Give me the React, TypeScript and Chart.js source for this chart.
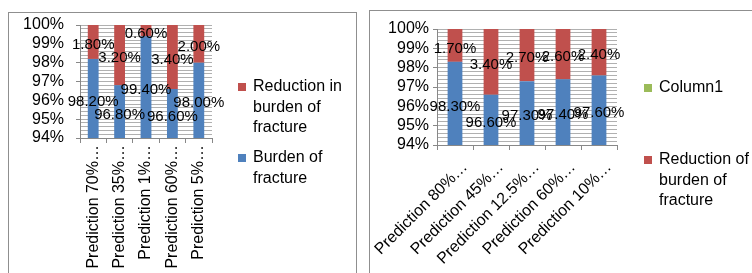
import React, { useEffect, useRef } from "react";
import { Chart, registerables } from "chart.js";

Chart.register(...registerables);

// ---------- data ----------
const leftCategories = ["Prediction 70%…", "Prediction 35%…", "Prediction 1%…", "Prediction 60%…", "Prediction 5%…"];
const leftBurden = [98.2, 96.8, 99.4, 96.6, 98.0];
const leftReduction = [1.8, 3.2, 0.6, 3.4, 2.0];
const leftSeriesNames = ["Burden of fracture", "Reduction in burden of fracture"];

const rightCategories = ["Prediction 80%…", "Prediction 45%…", "Prediction 12.5%…", "Prediction 60%…", "Prediction 10%…"];
const rightBurden = [98.3, 96.6, 97.3, 97.4, 97.6];
const rightReduction = [1.7, 3.4, 2.7, 2.6, 2.4];
const rightColumn1: number[] = [];
const rightSeriesNames = ["Burden of fracture", "Reduction of burden of fracture", "Column1"];

const yMin = 94;
const yMax = 100;
const yMinorStep = 0.2;

// ---------- styles ----------
const FONT = '"Liberation Sans", Arial, sans-serif';
const BLUE = "#4F81BD";
const RED = "#C0504D";
const GREEN = "#9BBB59";
const GRID = "#b0b0b0";
const AXIS = "#888888";

const isMajor = (v: number) => Math.abs(v - Math.round(v)) < 1e-6;

function wrapText(ctx: CanvasRenderingContext2D, text: string, maxWidth: number): string[] {
  const words = text.split(" ");
  const lines: string[] = [];
  let cur = "";
  for (const w of words) {
    const test = cur ? cur + " " + w : w;
    if (cur && ctx.measureText(test).width > maxWidth) {
      lines.push(cur);
      cur = w;
    } else {
      cur = test;
    }
  }
  if (cur) lines.push(cur);
  return lines;
}

const sideLegendPlugin = {
  id: "sideLegend",
  afterDraw(chart: any) {
    const o = chart.options.plugins.sideLegend;
    if (!o) return;
    const ctx = chart.ctx as CanvasRenderingContext2D;
    const x0 = chart.chartArea.right;
    ctx.save();
    ctx.font = `16px ${FONT}`;
    ctx.textBaseline = "middle";
    ctx.textAlign = "left";
    o.order.forEach((di: number, k: number) => {
      const ds = chart.data.datasets[di];
      const y0 = o.tops[k];
      ctx.fillStyle = ds.backgroundColor;
      ctx.fillRect(x0 + o.boxX, y0 - 4, 8, 8);
      ctx.fillStyle = "#000";
      const lines = wrapText(ctx, ds.label, o.maxWidth);
      lines.forEach((ln, i) => ctx.fillText(ln, x0 + o.textX, y0 + i * o.lineHeight));
    });
    ctx.restore();
  },
};

const valueLabelPlugin = {
  id: "valueLabels",
  afterDatasetsDraw(chart: any) {
    const o = chart.options.plugins.valueLabels;
    if (!o) return;
    const ctx = chart.ctx as CanvasRenderingContext2D;
    const area = chart.chartArea;
    ctx.save();
    ctx.font = `15px ${FONT}`;
    ctx.fillStyle = "#000";
    ctx.textAlign = "center";
    ctx.textBaseline = "middle";
    o.datasets.forEach((di: number) => {
      const ds = chart.data.datasets[di];
      const meta = chart.getDatasetMeta(di);
      meta.data.forEach((el: any, i: number) => {
        const v = ds.data[i];
        if (v == null) return;
        const { x, y, base } = el.getProps(["x", "y", "base"], true);
        const top = Math.max(Math.min(y, base), area.top);
        const bot = Math.min(Math.max(y, base), area.bottom);
        ctx.fillText(v.toFixed(2) + "%", x, (top + bot) / 2 + o.offset);
      });
    });
    ctx.restore();
  },
};

interface Layout {
  top: number;
  right: number;
  yWidth: number;
  xHeight: number;
  yPad: number;
  rotation: number;
  xPad: number;
  xLabelOffset: number;
  legendOrder: number[];
  legendTops: number[];
  boxX: number;
  textX: number;
}

function buildConfig(categories: string[], datasets: any[], L: Layout): any {
  return {
    type: "bar",
    data: { labels: categories, datasets },
    options: {
      animation: false,
      responsive: false,
      maintainAspectRatio: false,
      layout: { padding: { top: L.top, right: L.right, left: 0, bottom: 0 } },
      datasets: { bar: { categoryPercentage: 1, barPercentage: 0.41 } },
      plugins: {
        legend: { display: false },
        tooltip: { enabled: false },
        sideLegend: {
          order: L.legendOrder,
          tops: L.legendTops,
          boxX: L.boxX,
          textX: L.textX,
          maxWidth: 95,
          lineHeight: 20.5,
        },
        valueLabels: { datasets: [0, 1], offset: 3 },
      },
      scales: {
        x: {
          stacked: true,
          grid: {
            display: true,
            drawOnChartArea: false,
            offset: true,
            tickLength: 5,
            tickColor: AXIS,
          },
          border: { display: true, color: AXIS },
          ticks: {
            autoSkip: false,
            minRotation: L.rotation,
            maxRotation: L.rotation,
            padding: L.xPad,
            labelOffset: L.xLabelOffset,
            color: "#000",
            font: { family: FONT, size: 16 },
          },
          afterFit(scale: any) {
            scale.height = L.xHeight;
            scale.paddingLeft = 0;
            scale.paddingRight = 0;
          },
        },
        y: {
          stacked: true,
          min: yMin,
          max: yMax,
          grid: {
            color: (c: any) => (c.tick && Math.abs(c.tick.value - yMin) < 1e-6 ? AXIS : GRID),
            tickColor: (c: any) => (c.tick && isMajor(c.tick.value) ? AXIS : "rgba(0,0,0,0)"),
            tickLength: 4,
          },
          border: { display: true, color: AXIS },
          ticks: {
            stepSize: yMinorStep,
            maxTicksLimit: 1000,
            autoSkip: false,
            padding: L.yPad,
            color: "#000",
            font: { family: FONT, size: 16 },
            callback: (v: any) => (isMajor(Number(v)) ? Math.round(Number(v)) + "%" : ""),
          },
          afterFit(scale: any) {
            scale.width = L.yWidth;
            scale.paddingTop = 0;
            scale.paddingBottom = 0;
          },
        },
      },
    },
    plugins: [valueLabelPlugin, sideLegendPlugin],
  };
}

function ChartCanvas({ config, width, height }: { config: () => any; width: number; height: number }) {
  const ref = useRef<HTMLCanvasElement | null>(null);
  useEffect(() => {
    if (!ref.current) return;
    const chart = new Chart(ref.current, config());
    return () => chart.destroy();
  }, []);
  return <canvas ref={ref} width={width} height={height} style={{ display: "block", width, height }} />;
}

const leftConfig = () =>
  buildConfig(
    leftCategories,
    [
      { label: leftSeriesNames[0], data: leftBurden, backgroundColor: BLUE },
      { label: leftSeriesNames[1], data: leftReduction, backgroundColor: RED },
    ],
    {
      top: 12,
      right: 143,
      yWidth: 71,
      xHeight: 137,
      yPad: 12,
      rotation: 90,
      xPad: 2,
      xLabelOffset: 0,
      legendOrder: [1, 0],
      legendTops: [74, 145],
      boxX: 26,
      textX: 41,
    }
  );

const rightConfig = () =>
  buildConfig(
    rightCategories,
    [
      { label: rightSeriesNames[0], data: rightBurden, backgroundColor: BLUE },
      { label: rightSeriesNames[1], data: rightReduction, backgroundColor: RED },
      { label: rightSeriesNames[2], data: rightColumn1, backgroundColor: GREEN },
    ],
    {
      top: 18,
      right: 135,
      yWidth: 67,
      xHeight: 128,
      yPad: 4,
      rotation: 45,
      xPad: 8,
      xLabelOffset: 10,
      legendOrder: [2, 1],
      legendTops: [77, 149],
      boxX: 27,
      textX: 42,
    }
  );

export default function App() {
  return (
    <div
      style={{
        position: "fixed",
        left: 0,
        top: 0,
        width: 752,
        height: 273,
        overflow: "hidden",
        background: "#fff",
      }}
    >
      <div
        style={{
          position: "absolute",
          left: 8,
          top: 12,
          width: 349,
          height: 290,
          border: "1px solid #8f8f8f",
          boxSizing: "border-box",
          overflow: "hidden",
        }}
      >
        <ChartCanvas config={leftConfig} width={346} height={262} />
      </div>
      <div
        style={{
          position: "absolute",
          left: 369,
          top: 10,
          width: 420,
          height: 290,
          border: "1px solid #8f8f8f",
          boxSizing: "border-box",
          overflow: "hidden",
        }}
      >
        <ChartCanvas config={rightConfig} width={382} height={262} />
      </div>
    </div>
  );
}
